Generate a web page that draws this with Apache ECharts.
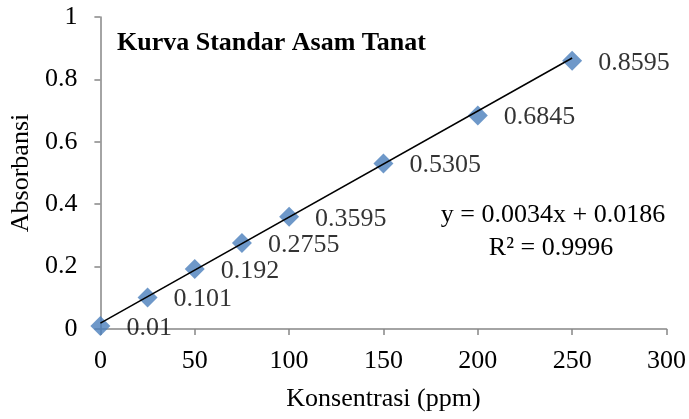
<!DOCTYPE html>
<html>
<head>
<meta charset="utf-8">
<script src="https://cdn.jsdelivr.net/npm/echarts@6/dist/echarts.min.js"></script>
<style>
  html, body { margin: 0; padding: 0; background: #fff; }
  #chart { width: 689px; height: 419px; }
</style>
</head>
<body>
<div id="chart"></div>
<script>
// Tannic acid standard curve: concentration (ppm) vs absorbance
var concentrations = [0, 25, 50, 75, 100, 150, 200, 250];
var absorbances = [0.01, 0.101, 0.192, 0.2755, 0.3595, 0.5305, 0.6845, 0.8595];
// Linear trendline coefficients
var slope = 0.0034;
var intercept = 0.0186;
var rSquared = 0.9996;
var trendRange = [0, 250];

var serif = '"Liberation Serif", "Times New Roman", serif';

var points = concentrations.map(function (x, i) { return [x, absorbances[i]]; });
var trend = trendRange.map(function (x) { return [x, slope * x + intercept]; });

var chart = echarts.init(document.getElementById('chart'));
chart.setOption({
  animation: false,
  backgroundColor: '#ffffff',
  grid: { left: 99, right: 22, top: 17, bottom: 90, containLabel: false },
  graphic: [
    {
      type: 'text', x: 117, y: 43,
      style: {
        text: 'Kurva Standar Asam Tanat',
        font: 'bold 26px ' + serif, fill: '#000',
        align: 'left', verticalAlign: 'middle'
      }
    },
    {
      type: 'text', x: 553, y: 215,
      style: {
        text: 'y = ' + slope.toFixed(4) + 'x + ' + intercept.toFixed(4),
        font: '26px ' + serif, fill: '#000',
        align: 'center', verticalAlign: 'middle'
      }
    },
    {
      type: 'text', x: 551, y: 248,
      style: {
        text: 'R² = ' + rSquared.toFixed(4),
        font: '26px ' + serif, fill: '#000',
        align: 'center', verticalAlign: 'middle'
      }
    }
  ],
  xAxis: {
    type: 'value', min: 0, max: 300, interval: 50,
    name: 'Konsentrasi (ppm)', nameLocation: 'middle', nameGap: 57,
    nameTextStyle: { fontFamily: serif, fontSize: 26, color: '#000' },
    axisLine: { show: true, lineStyle: { color: '#868686', width: 1.5 } },
    axisTick: { show: true, length: 6, inside: false, lineStyle: { color: '#868686', width: 1.5 } },
    axisLabel: { fontFamily: serif, fontSize: 26, color: '#000', margin: 19 },
    splitLine: { show: false }
  },
  yAxis: {
    type: 'value', min: 0, max: 1, interval: 0.2,
    name: 'Absorbansi', nameLocation: 'middle', nameGap: 61, nameRotate: 90,
    nameTextStyle: { fontFamily: serif, fontSize: 26, color: '#000' },
    axisLine: { show: true, lineStyle: { color: '#868686', width: 1.5 } },
    axisTick: { show: true, length: 6, inside: false, lineStyle: { color: '#868686', width: 1.5 } },
    axisLabel: { fontFamily: serif, fontSize: 26, color: '#000', margin: 23 },
    splitLine: { show: false }
  },
  series: [
    {
      type: 'scatter',
      data: points,
      symbol: 'diamond',
      symbolSize: 20,
      itemStyle: { color: '#4A7EBB' },
      z: 2,
      label: {
        show: true, position: 'right', distance: 16, offset: [0, 2],
        fontFamily: serif, fontSize: 26, color: '#000',
        formatter: function (p) { return String(p.value[1]); }
      }
    },
    {
      type: 'line',
      data: trend,
      symbol: 'none',
      lineStyle: { color: '#000', width: 1.5 },
      z: 3,
      silent: true
    }
  ]
});
</script>
</body>
</html>
